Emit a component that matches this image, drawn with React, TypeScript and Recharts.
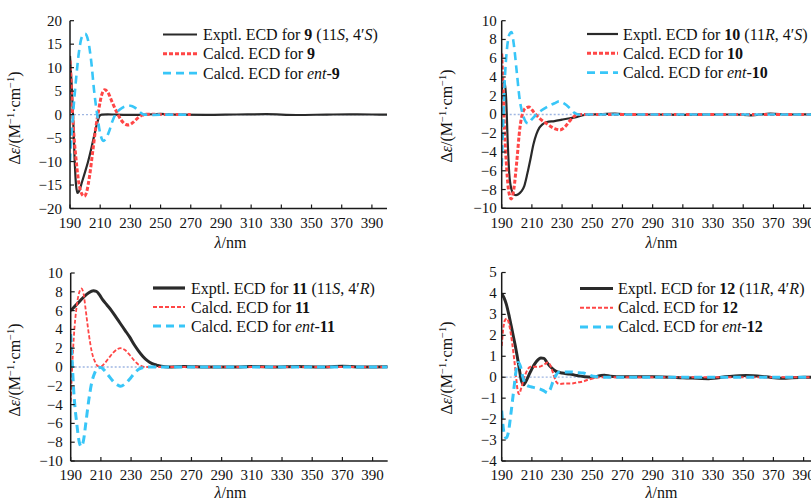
import React from 'react';
import { LineChart, Line, XAxis, YAxis, ReferenceLine } from 'recharts';

type P = [number, number];

// ---------- axis ticks ----------
const wavelengthTicks = [190, 210, 230, 250, 270, 290, 310, 330, 350, 370, 390];
const yTicks9 = [-20, -15, -10, -5, 0, 5, 10, 15, 20];
const yTicks10 = [-10, -8, -6, -4, -2, 0, 2, 4, 6, 8, 10];
const yTicks11 = [-10, -8, -6, -4, -2, 0, 2, 4, 6, 8, 10];
const yTicks12 = [-4, -3, -2, -1, 0, 1, 2, 3, 4, 5];

// ---------- compound 9 ----------
const exptl9: P[] = [[190,12.5],[191,7],[192,0],[193,-9],[194,-15],[195,-16.7],[196,-16.3],[198,-14.3],[200,-12.2],[202,-10],[204,-7.4],[206,-4.5],[208,-1.8],[209.5,-0.3],[211,0],[215,0.05],[220,0],[230,-0.05],[240,0],[250,0.15],[260,0],[280,-0.05],[300,0.02],[320,0.08],[340,-0.08],[360,0],[375,0.05],[390,0.02],[400,0]];
const calcd9: P[] = [[190,11.5],[191,5],[192,-1.5],[194,-9.5],[196,-14.8],[198,-17],[199.5,-17.4],[201,-16.5],[203,-13],[205,-8],[207,-3],[209,1],[211,4.2],[213,5.3],[215,4.8],[218,2.6],[221,0.5],[224,-1.2],[227,-2.1],[229,-2.2],[232,-1.6],[235,-0.7],[238,-0.1],[242,0.1],[250,0],[270,0]];
const ent9: P[] = [[190,-10],[191,-4.5],[192,0],[194,7.5],[196,13.5],[198,16.6],[200,17.2],[202,15.8],[204,11.5],[206,5],[208,0],[210,-4],[212,-5.6],[214,-5],[216,-3.5],[218,-1.5],[220,0],[223,1.1],[226,1.7],[230,1.9],[233,1.5],[236,0.6],[239,0],[245,-0.05],[255,0],[270,0]];

// ---------- compound 10 ----------
const exptl10: P[] = [[190,2.5],[191,3.3],[192,3.5],[193,1.5],[194,-3],[195,-6.3],[196.5,-8],[198,-8.5],[199.5,-8.6],[201,-8.5],[203,-8.2],[205,-7.6],[207,-6.3],[209,-4.8],[211,-3.2],[213,-2.1],[215,-1.4],[217,-1.05],[220,-0.8],[225,-0.7],[230,-0.55],[235,-0.4],[240,-0.25],[245,-0.05],[250,0],[257,0.05],[265,0.1],[275,0],[290,0],[310,-0.03],[330,0],[345,0],[355,-0.1],[368,0.1],[380,0],[400,0.02]];
const calcd10: P[] = [[190,6.5],[191,2.5],[192,-2],[193,-5],[194.5,-8],[196.3,-9],[198,-8],[200,-5],[202,-1.5],[204,0.2],[206,0.7],[208,0.8],[210,0.5],[212,0.1],[215,-0.4],[220,-1],[225,-1.5],[228.5,-1.65],[232,-1.3],[235,-0.7],[238,-0.2],[241,0],[250,0],[300,0],[350,0],[400,0]];
const ent10: P[] = [[190,-5.5],[191,-1],[192,3.5],[193.5,7],[195,8.5],[196.5,8.8],[198,7.5],[200,4.5],[202,1.5],[204,0],[206,-0.8],[207.5,-0.95],[210,-0.5],[213,0],[216,0.4],[220,0.8],[225,1.2],[228,1.4],[231,1.2],[235,0.7],[238,0.2],[241,0],[250,0],[300,0],[350,0],[400,0]];

// ---------- compound 11 ----------
const exptl11: P[] = [[190,6],[193,6.5],[196,7],[199,7.5],[202,7.9],[205,8.1],[207,8.05],[209,7.7],[211,7.2],[214,6.6],[217,6],[220,5.3],[223,4.6],[226,3.9],[229,3.2],[232,2.4],[235,1.7],[238,1.1],[241,0.65],[244,0.35],[247,0.2],[250,0.07],[255,0],[265,0.05],[280,0],[300,0],[310,0.05],[325,0],[340,0.05],[355,0],[370,0.07],[385,0],[400,0.03]];
const calcd11: P[] = [[190,-3.7],[191,0],[192,3],[194,6.5],[196,8.1],[197.2,8.35],[198.5,7.8],[200,6],[202,3.5],[204,1.6],[206,0.6],[208,0.1],[210,0.05],[212,0.3],[215,0.9],[218,1.5],[221,1.9],[223,2],[226,1.8],[229,1.3],[232,0.7],[235,0.25],[238,0.05],[240,0],[260,0],[300,0],[350,0],[400,0]];
const ent11: P[] = [[190,3.5],[191,0.5],[192,-2.5],[194,-6],[196,-8.2],[197,-8.45],[198.5,-7.8],[200,-6],[202,-3.5],[204,-1.6],[206,-0.6],[208,-0.1],[210,-0.05],[212,-0.3],[215,-0.9],[218,-1.5],[221,-1.9],[223,-2.05],[226,-1.8],[229,-1.3],[232,-0.7],[235,-0.25],[238,-0.05],[240,0],[260,0],[300,0],[350,0],[400,0]];

// ---------- compound 12 ----------
const exptl12: P[] = [[190,4],[191.5,3.8],[193,3.5],[195,2.9],[197,2.2],[199,1.5],[201,0.7],[203,-0.15],[204.5,-0.36],[206,-0.2],[208,0.1],[210,0.4],[213,0.75],[216,0.92],[218,0.9],[220,0.7],[223,0.45],[226,0.28],[230,0.2],[235,0.15],[240,0.08],[245,0.02],[250,0],[255,0.07],[258,0.1],[262,0.05],[270,0.02],[290,0.02],[310,-0.02],[327,-0.07],[340,0.03],[352,0.08],[365,0.02],[375,-0.05],[390,0],[400,-0.02]];
const calcd12: P[] = [[190,1.5],[191,2.3],[192,2.7],[193.5,2.8],[195,2.5],[197,1.6],[199,0.4],[200.5,-0.6],[201.5,-0.8],[203,-0.5],[205,0],[207,0.35],[209,0.5],[212,0.5],[215,0.5],[218,0.6],[220.5,0.7],[222,0.6],[224,0.2],[226,-0.2],[228,-0.32],[232,-0.3],[236,-0.3],[240,-0.25],[244,-0.2],[248,-0.1],[252,-0.03],[256,0],[270,0],[300,0],[350,0],[400,0]];
const ent12: P[] = [[190,-1.6],[191,-2.4],[192,-2.8],[193,-2.9],[194.5,-2.6],[196,-1.8],[198,-0.6],[199.5,0.3],[201,0.7],[202.5,0.5],[204,0],[206,-0.35],[209,-0.45],[212,-0.5],[215,-0.55],[218,-0.65],[220.5,-0.75],[222,-0.6],[224,-0.2],[226,0.1],[228,0.25],[232,0.25],[236,0.25],[240,0.22],[244,0.2],[248,0.1],[252,0.03],[256,0],[270,0],[300,0],[350,0],[400,0]];

const FONT = '"Liberation Serif", "Times New Roman", Times, serif';
const BLACK = '#2a2a2a';
const RED = '#ff4646';
const BLUE = '#38c6f8';
const AXIS = '#1a1a1a';

const toRows = (pts: P[]) => pts.map(([wl, de]) => ({ wl, de }));
const fmt = (v: number) => (v < 0 ? '\u2212' + Math.abs(v) : String(v));

interface SeriesStyle { data: P[]; color: string; width: number; dash?: string }
interface PanelProps {
  left: number; top: number;
  plotLeft: number; plotTop: number; plotW: number; plotH: number;
  yDomain: [number, number]; yTicks: number[]; labelGap: number;
  series: SeriesStyle[];
}

function Panel(props: PanelProps) {
  const { left, top, plotLeft, plotTop, plotW, plotH, yDomain, yTicks, labelGap, series } = props;
  const width = plotLeft + plotW + 10;
  const height = plotTop + plotH + 40;
  const axisY = plotTop + plotH;
  const XTick = (p: any) => (
    <g>
      <line x1={p.x} x2={p.x} y1={axisY} y2={axisY - 4} stroke={AXIS} strokeWidth={1.2} />
      <text x={p.x} y={axisY + 19.5} textAnchor="middle" fontFamily={FONT} fontSize={15} fill="#111">
        {p.payload.value}
      </text>
    </g>
  );
  const YTick = (p: any) => (
    <g>
      <line x1={plotLeft} x2={plotLeft + 4} y1={p.y} y2={p.y} stroke={AXIS} strokeWidth={1.2} />
      <text x={plotLeft - labelGap} y={p.y + 5} textAnchor="end" fontFamily={FONT} fontSize={15} fill="#111">
        {fmt(p.payload.value)}
      </text>
    </g>
  );
  return (
    <div style={{ position: 'absolute', left, top, width, height }}>
      <LineChart width={width} height={height} margin={{ top: plotTop, left: plotLeft - 40, right: 10, bottom: 10 }}>
        <XAxis type="number" dataKey="wl" domain={[190, 400]} ticks={wavelengthTicks} interval={0}
          allowDataOverflow tickSize={0} tickMargin={0} tickLine={false} tick={XTick} height={30}
          axisLine={{ stroke: AXIS, strokeWidth: 1.5 }} />
        <YAxis type="number" dataKey="de" domain={yDomain} ticks={yTicks} interval={0} allowDataOverflow
          width={40} tickSize={0} tickMargin={0} tickLine={false} tick={YTick}
          axisLine={{ stroke: AXIS, strokeWidth: 1.5 }} />
        <ReferenceLine y={0} stroke="#9fb6e2" strokeWidth={1.3} strokeDasharray="2 2" />
        {series.map((s, i) => (
          <Line key={i} data={toRows(s.data)} dataKey="de" type="monotone" stroke={s.color}
            strokeWidth={s.width} strokeDasharray={s.dash} dot={false} activeDot={false}
            isAnimationActive={false} />
        ))}
      </LineChart>
    </div>
  );
}

function YTitle({ x, y }: { x: number; y: number }) {
  return (
    <text transform={`translate(${x},${y}) rotate(-90)`} textAnchor="middle" fontFamily={FONT} fontSize={16} fill="#111">
      Δ<tspan fontStyle="italic">ε</tspan>/(M<tspan fontSize={10.5} dy={-6}>−1</tspan>
      <tspan dy={6}>·cm</tspan><tspan fontSize={10.5} dy={-6}>−1</tspan><tspan dy={6}>)</tspan>
    </text>
  );
}

function XTitle({ x, y }: { x: number; y: number }) {
  return (
    <text x={x} y={y} textAnchor="middle" fontFamily={FONT} fontSize={16} fill="#111">
      <tspan fontStyle="italic">λ</tspan>/nm
    </text>
  );
}

interface LegendItem { color: string; width: number; dash?: string; label: React.ReactNode }
function LegendBlock({ x0, x1, tx, y0, dy, items }: { x0: number; x1: number; tx: number; y0: number; dy: number; items: LegendItem[] }) {
  return (
    <g>
      {items.map((it, i) => (
        <g key={i}>
          <line x1={x0} x2={x1} y1={y0 + i * dy} y2={y0 + i * dy} stroke={it.color} strokeWidth={it.width} strokeDasharray={it.dash} />
          <text x={tx} y={y0 + i * dy + 5.5} fontFamily={FONT} fontSize={16} fill="#111">{it.label}</text>
        </g>
      ))}
    </g>
  );
}

const exptLabel = (n: string, a: string, b: string) => (
  <>Exptl. ECD for <tspan fontWeight="bold">{n}</tspan> (11<tspan fontStyle="italic">{a}</tspan>, 4′<tspan fontStyle="italic">{b}</tspan>)</>
);
const calcLabel = (n: string) => (<>Calcd. ECD for <tspan fontWeight="bold">{n}</tspan></>);
const entLabel = (n: string) => (<>Calcd. ECD for <tspan fontStyle="italic">ent</tspan>-<tspan fontWeight="bold">{n}</tspan></>);

export default function App() {
  return (
    <div style={{ position: 'absolute', left: 0, top: 0, width: 811, height: 501, overflow: 'hidden', background: '#fff' }}>
      <Panel left={0} top={0} plotLeft={70} plotTop={20.7} plotW={317} plotH={187.8} yDomain={[-20, 20]} yTicks={yTicks9} labelGap={8}
        series={[
          { data: exptl9, color: BLACK, width: 2.2 },
          { data: calcd9, color: RED, width: 3, dash: '4 2' },
          { data: ent9, color: BLUE, width: 2.6, dash: '8 5' },
        ]} />
      <Panel left={400} top={0} plotLeft={101.7} plotTop={20.7} plotW={317} plotH={187.6} yDomain={[-10, 10]} yTicks={yTicks10} labelGap={5}
        series={[
          { data: exptl10, color: BLACK, width: 2.2 },
          { data: calcd10, color: RED, width: 3, dash: '4 2' },
          { data: ent10, color: BLUE, width: 2.6, dash: '8 5' },
        ]} />
      <Panel left={0} top={250} plotLeft={70.7} plotTop={23} plotW={317} plotH={188} yDomain={[-10, 10]} yTicks={yTicks11} labelGap={8}
        series={[
          { data: exptl11, color: BLACK, width: 3 },
          { data: calcd11, color: RED, width: 1.8, dash: '4 2' },
          { data: ent11, color: BLUE, width: 3, dash: '8 5' },
        ]} />
      <Panel left={400} top={250} plotLeft={101.7} plotTop={22.5} plotW={317} plotH={188.5} yDomain={[-4, 5]} yTicks={yTicks12} labelGap={5}
        series={[
          { data: exptl12, color: BLACK, width: 3 },
          { data: calcd12, color: RED, width: 2, dash: '4 2' },
          { data: ent12, color: BLUE, width: 3, dash: '8 5' },
        ]} />
      <svg width={811} height={501} style={{ position: 'absolute', left: 0, top: 0, pointerEvents: 'none' }}>
        <YTitle x={20} y={118} />
        <YTitle x={451.7} y={116} />
        <YTitle x={20} y={370} />
        <YTitle x={451.7} y={368} />
        <XTitle x={230.5} y={248} />
        <XTitle x={661.5} y={248} />
        <XTitle x={230.5} y={498} />
        <XTitle x={661.5} y={498} />
        <LegendBlock x0={163} x1={197} tx={203} y0={34.5} dy={19.3} items={[
          { color: BLACK, width: 2.2, label: exptLabel('9', 'S', 'S') },
          { color: RED, width: 3, dash: '4 2', label: calcLabel('9') },
          { color: BLUE, width: 2.6, dash: '8 5', label: entLabel('9') },
        ]} />
        <LegendBlock x0={587} x1={618} tx={623} y0={34} dy={19.3} items={[
          { color: BLACK, width: 2.2, label: exptLabel('10', 'R', 'S') },
          { color: RED, width: 3, dash: '4 2', label: calcLabel('10') },
          { color: BLUE, width: 2.6, dash: '8 5', label: entLabel('10') },
        ]} />
        <LegendBlock x0={153} x1={185} tx={191} y0={288} dy={19} items={[
          { color: BLACK, width: 3.2, label: exptLabel('11', 'S', 'R') },
          { color: RED, width: 1.8, dash: '4 2', label: calcLabel('11') },
          { color: BLUE, width: 3, dash: '8 5', label: entLabel('11') },
        ]} />
        <LegendBlock x0={580} x1={613} tx={618} y0={288.5} dy={19.2} items={[
          { color: BLACK, width: 3.2, label: exptLabel('12', 'R', 'R') },
          { color: RED, width: 2, dash: '4 2', label: calcLabel('12') },
          { color: BLUE, width: 3, dash: '8 5', label: entLabel('12') },
        ]} />
      </svg>
    </div>
  );
}
